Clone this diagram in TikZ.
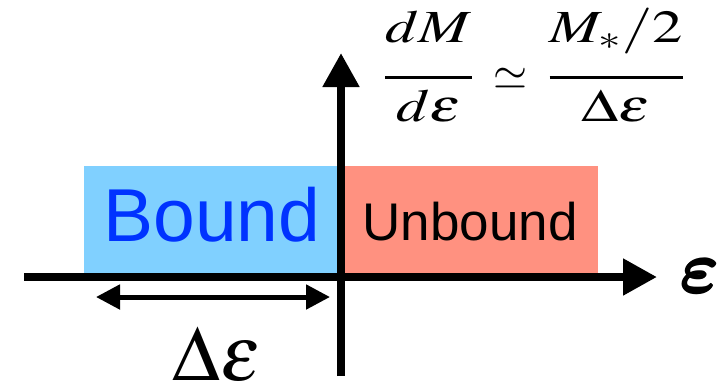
\documentclass[tikz,border=0pt]{standalone}
\usepackage{fontspec}
\usepackage{amsmath}
\usepackage{mathptmx}
\setmainfont{Liberation Serif}
\newfontfamily\labelfont{Liberation Sans}
\font\epsfont=cmmib10 at 73pt
\newcommand\heavyeps{\rlap{\epsfont\char34}\rlap{\kern2pt\epsfont\char34}%
  \rlap{\kern1pt\raisebox{1pt}{\epsfont\char34}}\kern1pt\raisebox{-1pt}{\epsfont\char34}}
\usetikzlibrary{arrows.meta}
\definecolor{BoundClr}{rgb}{0.5,0.816,1}
\definecolor{UnboundClr}{rgb}{1,0.569,0.502}
\definecolor{BoundTxtClr}{rgb}{0,0.2,1}

\begin{document}
\begin{tikzpicture}[x=1pt,y=-1pt,
  axis/.style={line width=8pt,-{Triangle[length=34pt,width=35pt]}},
  span/.style={line width=5pt,{Triangle[length=24pt,width=24pt]}-{Triangle[length=24pt,width=24pt]}},
  lbl/.style={inner sep=0pt,anchor=base}]
\useasboundingbox (0,0) rectangle (720,384);

% energy regions
\fill[BoundClr] (84,166) rectangle (341,273);
\fill[UnboundClr] (341,166) rectangle (598,273);

\coordinate (xl) at (24,277);
\coordinate (xr) at (657,277);
\coordinate (yb) at (341,376);
\coordinate (yt) at (341,53);
\draw[axis] (xl) -- (xr);
\draw[axis] (yb) -- (yt);

% width of the bound part
\coordinate (wl) at (96,297);
\coordinate (wr) at (330,297);
\draw[span] (wl) -- (wr);

\node[lbl,font=\labelfont\fontsize{75}{75}\selectfont,text=BoundTxtClr] (bound) at (212,241) {Bound};
\node[lbl,font=\labelfont\fontsize{53}{53}\selectfont] (unbound) at (470,240) {Unbound};

\node[inner sep=0pt] (eps) at (699,276) {\heavyeps};
\node[lbl,font=\fontsize{78}{78}\selectfont] (deps) at (217,380) {$\Delta\varepsilon$};
%\node (rate) at (534,77) {$dM/d\varepsilon$};
\node[lbl,font=\fontsize{46}{46}\selectfont] (rate) at (534,89)
  {\scalebox{1.32}[1]{$\genfrac{}{}{3.5pt}{0}{\raisebox{15pt}{$dM$}}{d\varepsilon}
   \,\mathrel{\scalebox{.72}[1]{$\simeq$}}\,
   \genfrac{}{}{3.5pt}{0}{\raisebox{15pt}{$M_*/2$}}{\Delta\varepsilon}$}};

\end{tikzpicture}
\end{document}
